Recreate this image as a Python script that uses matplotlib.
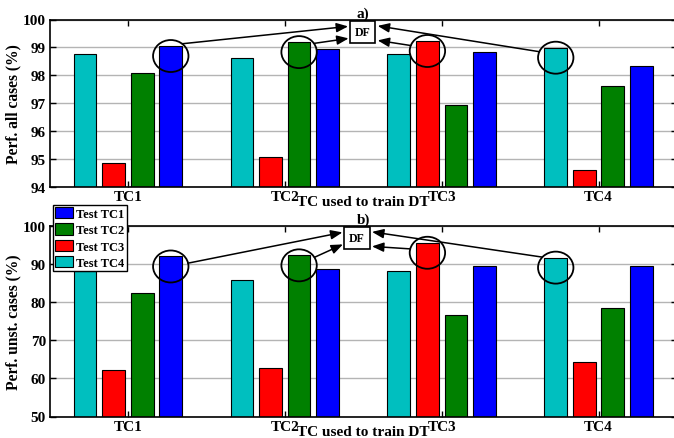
import numpy as np
import matplotlib.pyplot as plt
from matplotlib.patches import Ellipse, FancyArrowPatch
from matplotlib.transforms import IdentityTransform

plt.rcParams['font.family'] = ['Liberation Serif', 'DejaVu Serif']
plt.rcParams['font.weight'] = 'bold'

# data
groups = ['TC1', 'TC2', 'TC3', 'TC4']
series = ['Test TC4', 'Test TC3', 'Test TC2', 'Test TC1']   # order of bars inside a group
colors = ['#00bfbf', '#ff0000', '#008000', '#0000ff']

all_tc4 = [98.78, 98.61, 98.78, 98.99]
all_tc3 = [94.85, 95.06, 99.23, 94.61]
all_tc2 = [98.07, 99.19, 96.94, 97.61]
all_tc1 = [99.05, 98.96, 98.85, 98.33]

unst_tc4 = [88.2, 85.9, 88.2, 91.7]
unst_tc3 = [62.3, 62.6, 95.6, 64.4]
unst_tc2 = [82.5, 92.3, 76.7, 78.4]
unst_tc1 = [92.0, 88.8, 89.5, 89.6]

# bar circled in each group (the one fed to DF)
chosen = ['Test TC1', 'Test TC2', 'Test TC3', 'Test TC4']

W, H = 674, 439
fig = plt.figure(figsize=(W / 100, H / 100), dpi=100)


def px_rect(left, top, right, bottom):
    return [left / W, 1 - bottom / H, (right - left) / W, (bottom - top) / H]


ax1 = fig.add_axes(px_rect(49.5, 20.5, 677, 188))
ax2 = fig.add_axes(px_rect(49.5, 227, 677, 417.5))

x = np.arange(1, len(groups) + 1)
step = 0.182
offsets = (np.arange(len(series)) - 1.5) * step
width = 0.145


def panel(ax, values, ylim, yticks, ylabel, title):
    bars = {}
    for i, (name, vals) in enumerate(zip(series, values)):
        bars[name] = ax.bar(x + offsets[i], vals, width, bottom=0, color=colors[i],
                            edgecolor='black', linewidth=0.8, label=name)
    ax.set_xlim(0.5, 4.5)
    ax.set_ylim(*ylim)
    ax.set_yticks(yticks)
    ax.set_xticks(x)
    ax.set_xticklabels(groups)
    ax.tick_params(direction='in', top=True, right=True, length=4, width=1,
                   labelsize=11, pad=2.5)
    ax.yaxis.grid(True, color='#b4b4b4', linewidth=1)
    ax.set_axisbelow(True)
    for s in ax.spines.values():
        s.set_linewidth(1.2)
    ax.set_ylabel(ylabel, fontsize=11.2, fontweight='bold', labelpad=1)
    ax.set_xlabel('TC used to train DT', fontsize=11, fontweight='bold')
    ax.set_title(title, fontsize=11, fontweight='bold', pad=2)
    return bars


b1 = panel(ax1, [all_tc4, all_tc3, all_tc2, all_tc1], (94, 100), range(94, 101),
           'Perf. all cases (%)', 'a)')
b2 = panel(ax2, [unst_tc4, unst_tc3, unst_tc2, unst_tc1], (50, 100), range(50, 101, 10),
           'Perf. unst. cases (%)', 'b)')
ax1.xaxis.set_label_coords(0.5, -0.05)
ax2.xaxis.set_label_coords(0.5, -0.044)

fig.legend(handles=[b2[n] for n in ['Test TC1', 'Test TC2', 'Test TC3', 'Test TC4']],
           loc='upper left', bbox_to_anchor=(52.7 / W, 1 - 205.7 / H),
           fontsize=9, frameon=True, fancybox=False, framealpha=1,
           edgecolor='black', borderpad=0.2, labelspacing=0.27,
           handlelength=1.45, handleheight=1.0, handletextpad=0.2,
           borderaxespad=0).get_frame().set_linewidth(1)


# circles + arrows to the DF box (pixel geometry)
def df_links(ax, values, box_pos, start_angles):
    ax.text(*box_pos, 'DF', transform=ax.transAxes, ha='center', va='center',
            fontsize=8.5, fontweight='bold', zorder=6,
            bbox=dict(boxstyle='square,pad=0.42', fc='white', ec='black', lw=1.2))
    bx, by = ax.transAxes.transform(box_pos)
    tips = [(-14.5, 6), (-14, -6), (15, -8), (15, 6.5)]
    rx, ry = 17.7, 16
    for g, name in enumerate(chosen):
        i = series.index(name)
        cx, cy = ax.transData.transform((x[g] + offsets[i], values[i][g]))
        cy -= 10
        fig.add_artist(Ellipse((cx, cy), 2 * rx, 2 * ry, transform=IdentityTransform(),
                               fill=False, ec='black', lw=1.3, zorder=7))
        a = np.deg2rad(start_angles[g])
        sx, sy = cx + rx * np.cos(a), cy + ry * np.sin(a)
        tx, ty = bx + tips[g][0], by + tips[g][1]
        fig.add_artist(FancyArrowPatch((sx, sy), (tx, ty), transform=IdentityTransform(),
                                       arrowstyle='-|>,head_length=0.7,head_width=0.28',
                                       mutation_scale=10, color='black', lw=1.1,
                                       shrinkA=0, shrinkB=0, zorder=7))


df_links(ax1, [all_tc4, all_tc3, all_tc2, all_tc1], (0.499, 0.923), [50, 33, 160, 158])
df_links(ax2, [unst_tc4, unst_tc3, unst_tc2, unst_tc1], (0.49, 0.935), [12, 30, 166, 139])

fig.savefig('out.png', dpi=100)
